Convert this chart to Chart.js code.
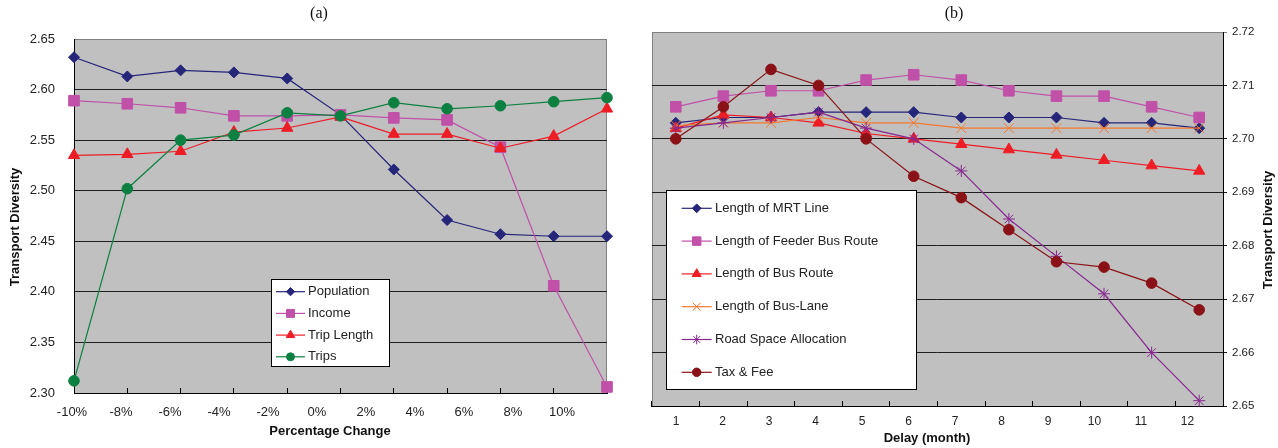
<!DOCTYPE html>
<html>

<head>
    <script src="https://cdnjs.cloudflare.com/ajax/libs/Chart.js/4.4.1/chart.umd.js"></script>
    <title>Transport Diversity</title>
    <style>
        body { margin: 0; background: #fff; }
        #wrap { position: relative; width: 1278px; height: 448px; }
        .chart { position: absolute; top: 0; height: 448px; }
        #chartA { left: 0; width: 640px; }
        #chartB { left: 640px; width: 638px; }
    </style>
</head>

<body>
    <div id="wrap">
        <div class="chart" id="chartA"><canvas id="a"></canvas></div>
        <div class="chart" id="chartB"><canvas id="b"></canvas></div>
    </div>
    <script>
        // (a) percentage change
        const pctLabels = ['-10%', '-8%', '-6%', '-4%', '-2%', '0%', '2%', '4%', '6%', '8%', '10%'];
        const population = [2.632, 2.613, 2.619, 2.617, 2.611, 2.575, 2.521, 2.471, 2.457, 2.455, 2.455];
        const income = [2.589, 2.586, 2.582, 2.574, 2.574, 2.575, 2.572, 2.570, 2.543, 2.406, 2.306];
        const tripLength = [2.535, 2.536, 2.539, 2.558, 2.562, 2.573, 2.556, 2.556, 2.542, 2.554, 2.581];
        const trips = [2.312, 2.502, 2.550, 2.555, 2.577, 2.574, 2.587, 2.581, 2.584, 2.588, 2.592];

        // (b) delay in months
        const months = ['1', '2', '3', '4', '5', '6', '7', '8', '9', '10', '11', '12'];
        const mrtLine = [2.703, 2.704, 2.704, 2.705, 2.705, 2.705, 2.704, 2.704, 2.704, 2.703, 2.703, 2.702];
        const feederBus = [2.706, 2.708, 2.709, 2.709, 2.711, 2.712, 2.711, 2.709, 2.708, 2.708, 2.706, 2.704];
        const busRoute = [2.702, 2.7045, 2.704, 2.703, 2.701, 2.700, 2.699, 2.698, 2.697, 2.696, 2.695, 2.694];
        const busLane = [2.7025, 2.703, 2.703, 2.704, 2.703, 2.703, 2.702, 2.702, 2.702, 2.702, 2.702, 2.702];
        const roadSpace = [2.702, 2.703, 2.704, 2.705, 2.702, 2.700, 2.694, 2.685, 2.678, 2.671, 2.660, 2.651];
        const taxFee = [2.700, 2.706, 2.713, 2.710, 2.700, 2.693, 2.689, 2.683, 2.677, 2.676, 2.673, 2.668];

        Chart.defaults.font.family = '"Liberation Sans", Arial, sans-serif';
        Chart.defaults.color = '#222';

        const series = (label, data, color, style, radius, i, n) => ({
            label: label,
            data: data,
            borderColor: color,
            backgroundColor: color,
            pointBackgroundColor: color,
            pointBorderColor: color,
            pointStyle: style,
            pointRadius: radius,
            pointHoverRadius: radius,
            pointBorderWidth: 1,
            borderWidth: 1.2,
            tension: 0,
            clip: false,
            order: n - i
        });

        // grey plot area + grey frame on the sides without an axis
        const plotFrame = {
            id: 'plotFrame',
            beforeDraw(chart, args, o) {
                const { ctx, chartArea: a } = chart;
                ctx.save();
                ctx.fillStyle = '#c0c0c0';
                ctx.fillRect(a.left, a.top, a.right - a.left, a.bottom - a.top);
                ctx.strokeStyle = '#808080';
                ctx.lineWidth = 1;
                ctx.beginPath();
                ctx.moveTo(a.left, a.top + 0.5);
                ctx.lineTo(a.right, a.top + 0.5);
                const sx = o.side === 'left' ? a.left + 0.5 : a.right - 0.5;
                ctx.moveTo(sx, a.top);
                ctx.lineTo(sx, a.bottom);
                ctx.stroke();
                ctx.restore();
            }
        };

        const captions = {
            id: 'captions',
            afterDraw(chart, args, o) {
                const ctx = chart.ctx;
                o.items.forEach(t => {
                    ctx.save();
                    ctx.font = t.font;
                    ctx.fillStyle = '#111';
                    ctx.textAlign = 'center';
                    ctx.textBaseline = 'middle';
                    ctx.translate(t.x, t.y);
                    if (t.rotate) ctx.rotate(-Math.PI / 2);
                    ctx.fillText(t.text, 0, 0);
                    ctx.restore();
                });
            }
        };

        const boxLegend = {
            id: 'boxLegend',
            afterDraw(chart, args, o) {
                const ctx = chart.ctx;
                ctx.save();
                ctx.fillStyle = '#fff';
                ctx.fillRect(o.x, o.y, o.w, o.h);
                ctx.strokeStyle = '#000';
                ctx.lineWidth = 1;
                ctx.strokeRect(o.x + 0.5, o.y + 0.5, o.w, o.h);
                ctx.font = o.font;
                ctx.textBaseline = 'middle';
                chart.data.datasets.forEach((ds, i) => {
                    const y = o.top + i * o.step;
                    ctx.strokeStyle = ds.borderColor;
                    ctx.lineWidth = ds.borderWidth;
                    ctx.beginPath();
                    ctx.moveTo(o.x1, y);
                    ctx.lineTo(o.x2, y);
                    ctx.stroke();
                    ctx.fillStyle = ds.pointBackgroundColor;
                    ctx.strokeStyle = ds.pointBorderColor;
                    ctx.lineWidth = ds.pointBorderWidth;
                    Chart.helpers.drawPoint(ctx, {
                        pointStyle: ds.pointStyle,
                        radius: ds.pointRadius * o.scale,
                        borderWidth: ds.pointBorderWidth,
                        rotation: 0
                    }, (o.x1 + o.x2) / 2, y);
                    ctx.fillStyle = '#222';
                    ctx.fillText(ds.label, o.textX, y);
                });
                ctx.restore();
            }
        };

        const gridColor = (top) => (c) => (c.tick && c.tick.value >= top - 1e-6 ? '#808080' : '#1e1e1e');

        new Chart(document.getElementById('a'), {
            type: 'line',
            data: {
                labels: pctLabels,
                datasets: [
                    series('Population', population, '#25257a', 'rectRot', 5.5, 0, 4),
                    series('Income', income, '#c050a8', 'rect', 7.5, 1, 4),
                    series('Trip Length', tripLength, '#ee1c25', 'triangle', 6.5, 2, 4),
                    series('Trips', trips, '#0b8040', 'circle', 5.3, 3, 4)
                ]
            },
            options: {
                responsive: true,
                maintainAspectRatio: false,
                animation: false,
                layout: { padding: { top: 39, right: 33, left: 0, bottom: 0 } },
                scales: {
                    y: {
                        min: 2.30,
                        max: 2.65,
                        ticks: { stepSize: 0.05, padding: 19, font: { size: 13 }, callback: v => v.toFixed(2) },
                        grid: { color: gridColor(2.65), drawTicks: false },
                        border: { color: '#000' },
                        afterFit: s => { s.width = 74; }
                    },
                    x: {
                        type: 'category',
                        weight: 0,
                        ticks: { display: false },
                        grid: { drawOnChartArea: false, drawTicks: true, tickLength: -5, color: '#000' },
                        border: { color: '#000' },
                        afterFit: s => { s.height = 0; }
                    },
                    x2: {
                        type: 'linear',
                        position: 'bottom',
                        weight: 1,
                        min: 0.041,
                        max: 10.918,
                        grid: { display: false, drawTicks: false },
                        border: { display: false },
                        afterBuildTicks: s => { s.ticks = pctLabels.map((_, i) => ({ value: i })); },
                        ticks: { autoSkip: false, maxRotation: 0, minRotation: 0, padding: 12, font: { size: 13 }, callback: v => pctLabels[v] },
                        afterFit: s => { s.height = 55; }
                    }
                },
                plugins: {
                    legend: { display: false },
                    tooltip: { enabled: false },
                    plotFrame: { side: 'right' },
                    captions: {
                        items: [
                            { text: '(a)', x: 319, y: 14, font: '16px "Liberation Serif", "Times New Roman", serif' },
                            { text: 'Transport Diversity', x: 15, y: 227, rotate: true, font: 'bold 13px "Liberation Sans", Arial, sans-serif' },
                            { text: 'Percentage Change', x: 330, y: 431, font: 'bold 13px "Liberation Sans", Arial, sans-serif' }
                        ]
                    },
                    boxLegend: { x: 271, y: 279, w: 118, h: 87, top: 291.7, step: 21.7, x1: 276, x2: 305, textX: 308, scale: 0.75, font: '13px "Liberation Sans", Arial, sans-serif' }
                }
            },
            plugins: [plotFrame, captions, boxLegend]
        });

        new Chart(document.getElementById('b'), {
            type: 'line',
            data: {
                labels: months,
                datasets: [
                    series('Length of MRT Line', mrtLine, '#25257a', 'rectRot', 5.5, 0, 6),
                    series('Length of Feeder Bus Route', feederBus, '#c050a8', 'rect', 7.5, 1, 6),
                    series('Length of Bus Route', busRoute, '#ee1c25', 'triangle', 6.5, 2, 6),
                    series('Length of Bus-Lane', busLane, '#f4792e', 'crossRot', 7, 3, 6),
                    series('Road Space Allocation', roadSpace, '#86288f', 'star', 6, 4, 6),
                    series('Tax & Fee', taxFee, '#8a1216', 'circle', 5.3, 5, 6)
                ]
            },
            options: {
                responsive: true,
                maintainAspectRatio: false,
                animation: false,
                layout: { padding: { top: 32, right: 0, left: 12, bottom: 0 } },
                scales: {
                    y: {
                        position: 'right',
                        min: 2.65,
                        max: 2.72,
                        ticks: { stepSize: 0.01, padding: 5, font: { size: 11.5 }, callback: v => v.toFixed(2) },
                        grid: { color: gridColor(2.72), drawTicks: true, tickLength: 4 },
                        border: { color: '#000' },
                        afterFit: s => { s.width = 55; }
                    },
                    x: {
                        type: 'category',
                        weight: 0,
                        offset: true,
                        ticks: { display: false },
                        grid: { offset: true, drawOnChartArea: false, drawTicks: true, tickLength: -5, color: '#000' },
                        border: { color: '#000' },
                        afterFit: s => { s.height = 0; }
                    },
                    x2: {
                        type: 'linear',
                        position: 'bottom',
                        weight: 1,
                        min: 0.484,
                        max: 12.763,
                        grid: { display: false, drawTicks: false },
                        border: { display: false },
                        afterBuildTicks: s => { s.ticks = months.map((m, i) => ({ value: i + 1 })); },
                        ticks: { autoSkip: false, maxRotation: 0, minRotation: 0, padding: 8.8, font: { size: 12 }, callback: v => months[v - 1] },
                        afterFit: s => { s.height = 42; }
                    }
                },
                plugins: {
                    legend: { display: false },
                    tooltip: { enabled: false },
                    plotFrame: { side: 'left' },
                    captions: {
                        items: [
                            { text: '(b)', x: 314, y: 14, font: '16px "Liberation Serif", "Times New Roman", serif' },
                            { text: 'Transport Diversity', x: 628, y: 230, rotate: true, font: 'bold 13px "Liberation Sans", Arial, sans-serif' },
                            { text: 'Delay (month)', x: 287, y: 438, font: 'bold 13px "Liberation Sans", Arial, sans-serif' }
                        ]
                    },
                    boxLegend: { x: 26, y: 190, w: 250, h: 199, top: 208.3, step: 32.8, x1: 41.7, x2: 71.7, textX: 75, scale: 0.8, font: '13px "Liberation Sans", Arial, sans-serif' }
                }
            },
            plugins: [plotFrame, captions, boxLegend]
        });
    </script>
</body>

</html>
